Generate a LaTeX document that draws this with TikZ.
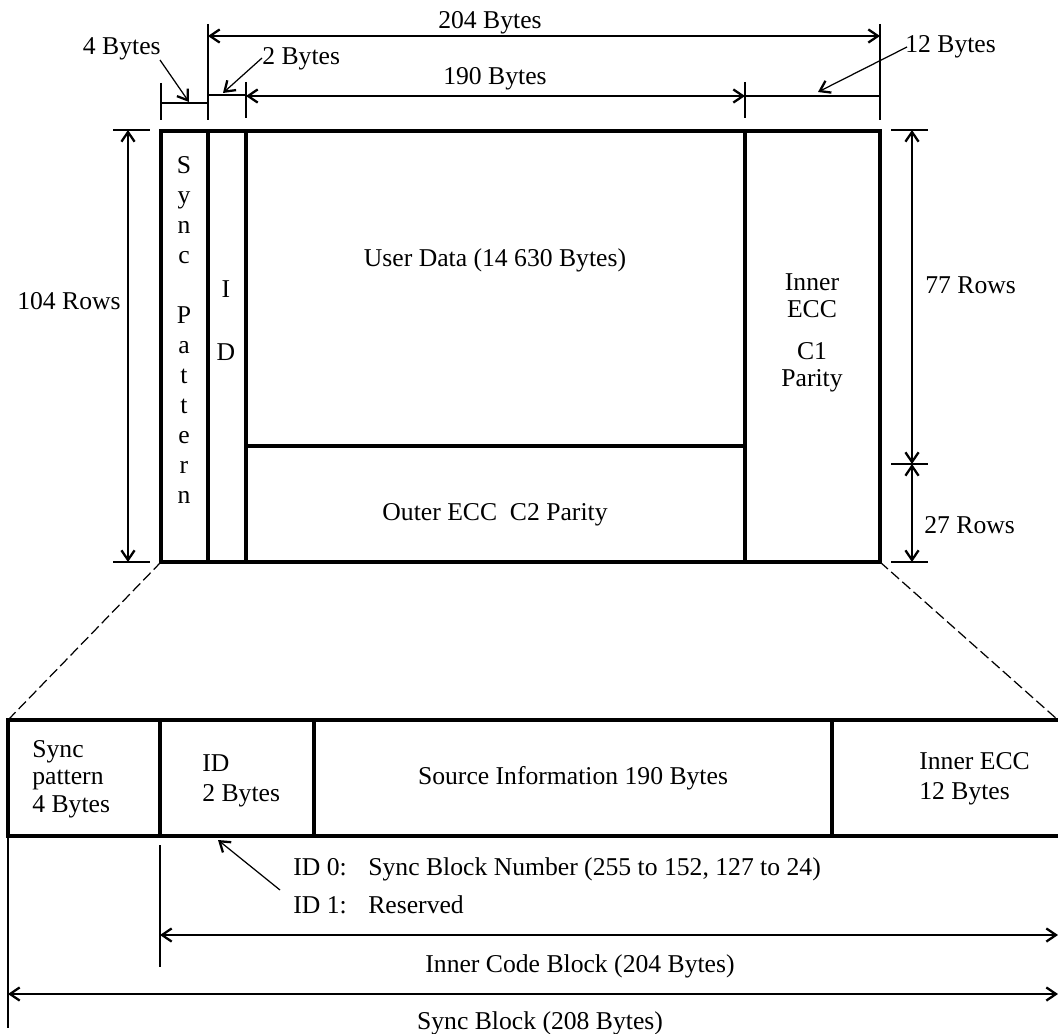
\documentclass[tikz,border=0pt]{standalone}
\usepackage{fontspec}
\setmainfont{Liberation Serif}
\usetikzlibrary{arrows.meta, positioning, calc}

\begin{document}
\begin{tikzpicture}[
        x=0.02cm, y=-0.02cm,
        font=\fontsize{14.6}{17}\selectfont,
        frame/.style={line width=1.9pt},
        fine/.style={line width=0.7pt},
        dim/.style={
            fine,
            {Straight Barb[length=5.5pt, width=7.5pt, line width=1.3pt]}-{Straight Barb[length=5.5pt, width=7.5pt, line width=1.3pt]}
        },
        lead/.style={
            fine,
            -{Straight Barb[length=5.5pt, width=7.5pt, line width=1.3pt]}
        },
        cut/.style={fine, dash pattern=on 6pt off 2.5pt},
        lbl/.style={inner sep=0pt}
    ]
    \useasboundingbox (0,0) rectangle (1058,1034);

    % Frame corners
    \coordinate (ftl) at (161,131);
    \coordinate (fbr) at (880,562);
    \coordinate (fbl) at (161,562);
    \coordinate (bbl) at (8,720);
    \coordinate (bbr) at (1058,720);

    % Frame
    \draw[frame] (ftl) rectangle (fbr);
    \draw[frame] (208,131) -- (208,562);
    \draw[frame] (246,131) -- (246,562);
    \draw[frame] (745,131) -- (745,562);
    \draw[frame] (246,446) -- (745,446);

    % Frame texts
    \node[lbl, align=center, font=\fontsize{14.6}{17.1}\selectfont] (sync) at (184,330)
        {S\\y\\n\\c\\[17.1pt]P\\a\\t\\t\\e\\r\\n};
    \node[lbl, align=center, font=\fontsize{14.6}{17.1}\selectfont] (id) at (226,321)
        {I\\[18.7pt]D};
    \node[lbl, anchor=base] (user) at (495,266) {User Data (14 630 Bytes)};
    \node[lbl, anchor=base] (outer) at (495,520) {Outer ECC\ \ C2 Parity};
    \node[lbl, align=center, font=\fontsize{14.6}{15.3}\selectfont] (inner) at (812,333)
        {Inner\\ECC\\[9pt]C1\\Parity};

    % Byte dimensions
    \draw[fine] (161,83) -- (161,120);
    \draw[fine] (208,24) -- (208,120);
    \draw[fine] (246,82) -- (246,118);
    \draw[fine] (745,82) -- (745,118);
    \draw[fine] (880,24) -- (880,120);
    \coordinate (d204a) at (208,36);
    \coordinate (d204b) at (880,36);
    \coordinate (d190a) at (246,96);
    \coordinate (d190b) at (745,96);
    \draw[dim] (d204a) -- (d204b);
    \draw[dim] (d190a) -- (d190b);
    \draw[fine] (161,103) -- (208,103);
    \draw[fine] (208,95) -- (246,95);
    \draw[fine] (d190b) -- (880,96);
    \node[lbl, anchor=base] (b204) at (490,29) {204 Bytes};
    \node[lbl, anchor=base] (b190) at (495,85) {190 Bytes};
    \node[lbl, anchor=base east] (b4) at (161,55) {4 Bytes};
    \node[lbl, anchor=base west] (b2) at (262,65) {2 Bytes};
    \node[lbl, anchor=base west] (b12) at (905,53) {12 Bytes};
    \coordinate (t4) at (189,102);
    \coordinate (t2) at (223,93);
    \coordinate (t12) at (818,92);
    \draw[lead] (160,60) -- (t4);
    \draw[lead] (262,58) -- (t2);
    \draw[lead] (907,47) -- (t12);

    % Row dimensions
    \draw[fine] (113,130) -- (150,130);
    \draw[fine] (113,562) -- (150,562);
    \draw[dim] (128,130) -- (128,562);
    \draw[fine] (891,130) -- (928,130);
    \draw[fine] (891,464) -- (928,464);
    \draw[fine] (891,562) -- (928,562);
    \draw[dim] (912,130) -- (912,464);
    \draw[dim] (912,464) -- (912,562);
    \node[lbl, anchor=base] (r104) at (69,309) {104 Rows};
    \node[lbl, anchor=base west] (r77) at (925,293) {77 Rows};
    \node[lbl, anchor=base west] (r27) at (924,533) {27 Rows};

    % Zoom lines
    \draw[cut] (fbl) -- (bbl);
    \draw[cut] (fbr) -- (bbr);

    % Sync block
    \draw[frame] (1062,720) -- (bbl) -- (8,836) -- (1062,836);
    \draw[frame] (160,720) -- (160,836);
    \draw[frame] (314,720) -- (314,836);
    \draw[frame] (832,720) -- (832,836);
    \node[lbl, anchor=west, align=left, font=\fontsize{14.6}{15.6}\selectfont] (syncp) at (32,779)
        {Sync\\pattern\\4 Bytes};
    \node[lbl, anchor=west, align=left] (idb) at (202,781)
        {ID\\2 Bytes};
    \node[lbl, anchor=base] (src) at (573,784) {Source Information 190 Bytes};
    \node[lbl, anchor=west, align=left] (iecc) at (919,779)
        {Inner ECC\\12 Bytes};

    % ID notes
    \node[lbl, anchor=base west] (id0) at (293,875)
        {\makebox[42.7pt][l]{ID 0:}Sync Block Number (255 to 152, 127 to 24)};
    \node[lbl, anchor=base west] (id1) at (293,913)
        {\makebox[42.7pt][l]{ID 1:}Reserved};
    \coordinate (tid) at (218,840);
    \draw[lead] (280,890) -- (tid);

    % Block lengths
    \draw[fine] (8,836) -- (8,1028);
    \draw[fine] (160,845) -- (160,967);
    \draw[dim] (160,935) -- (1058,935);
    \draw[dim] (8,994) -- (1058,994);
    \node[lbl, anchor=base] (icb) at (580,972) {Inner Code Block (204 Bytes)};
    \node[lbl, anchor=base] (sb) at (540,1029) {Sync Block (208 Bytes)};

\end{tikzpicture}
\end{document}
